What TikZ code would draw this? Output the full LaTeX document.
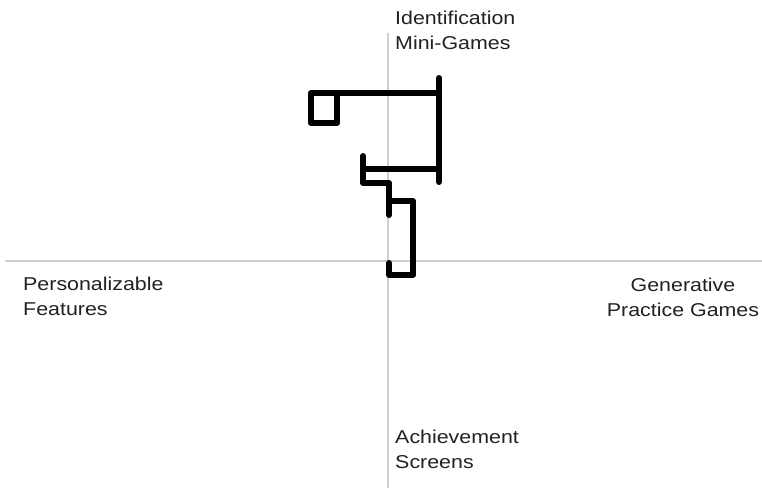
\documentclass[tikz,border=0pt]{standalone}
\usepackage{tikz}
\usepackage{fontspec}
\setmainfont{Liberation Sans}
\usepackage{xcolor}

\definecolor{axisgray}{HTML}{D0D0D0}
\definecolor{labelgray}{HTML}{222222}

\tikzset{
	quadlabel/.style={font=\fontsize{18.6}{25}\selectfont, text=labelgray, inner sep=0pt, xscale=1.15},
	axisline/.style={draw=axisgray, line width=1.3pt},
	trail/.style={draw=black, line width=6pt, line cap=round, line join=round}
}

\begin{document}
\begin{tikzpicture}[x=1pt, y=-1pt]
				% Frame and axes:
				\fill[white] (0, 0) rectangle (762, 490);
				\useasboundingbox (0, 0) rectangle (762, 490);
				\coordinate (Top) at (388, 33);
				\coordinate (Bottom) at (388, 488);
				\coordinate (Left) at (5, 261);
				\coordinate (Right) at (762, 261);
				\draw[axisline] (Top) -- (Bottom);
				\draw[axisline] (Left) -- (Right);
				% Quadrant labels:
				\node[quadlabel, anchor=north west, align=left] (IdGames) at (395, 10.5){Identification\\Mini-Games};
				\node[quadlabel, anchor=north west, align=left] (PersFeat) at (23, 276.5){Personalizable\\Features};
				\node[quadlabel, anchor=north, align=center] (GenGames) at (683, 277.5){Generative\\Practice Games};
				\node[quadlabel, anchor=north west, align=left] (AchScreens) at (395, 430){Achievement\\Screens};
				% Trail:
				\draw[trail] (439, 78) -- (439, 182);
				\draw[trail] (439, 93) -- (311, 93) -- (311, 123) -- (337, 123) -- (337, 93);
				\draw[trail] (439, 169) -- (363, 169);
				\draw[trail] (363, 156) -- (363, 183) -- (389, 183) -- (389, 215);
				\draw[trail] (389, 201) -- (413, 201) -- (413, 275) -- (389, 275) -- (389, 263);
			\end{tikzpicture}
\end{document}
